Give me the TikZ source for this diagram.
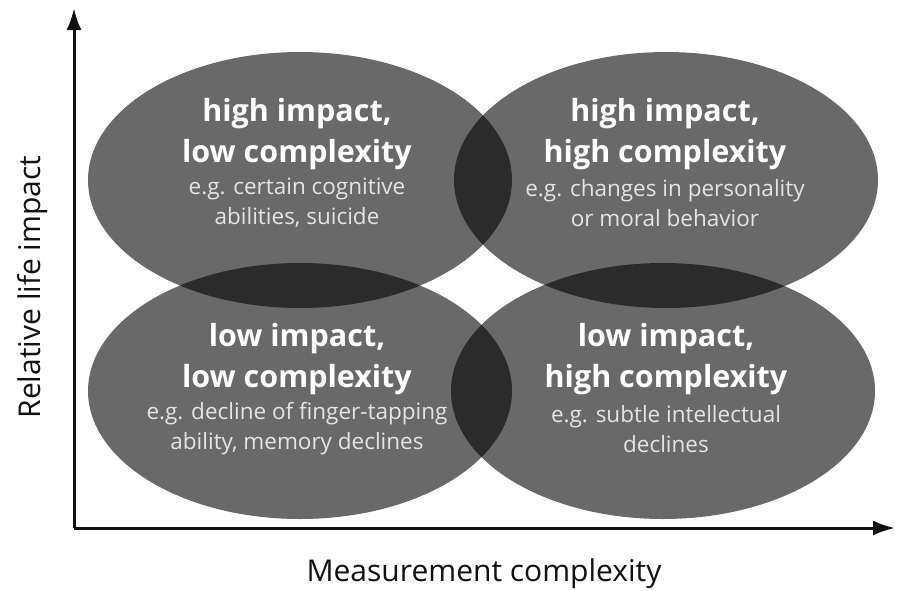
\documentclass[tikz,border=0pt]{standalone}
\usepackage{fontspec}
\setmainfont{Open Sans}
\usetikzlibrary{arrows.meta, shapes.geometric}
\definecolor{blob-fill}{HTML}{000000}
\definecolor{title-text}{HTML}{FFFFFF}
\definecolor{note-text}{HTML}{E4E4E4}
\definecolor{axis}{HTML}{111111}
\tikzset{
  quad-blob/.style={
    ellipse, fill=blob-fill, fill opacity=0.59,
    minimum width=424pt, minimum height=256pt, inner sep=0pt
  },
  quad-title/.style={
    align=center, text=title-text, inner sep=0pt,
    font=\fontsize{30.5}{41}\selectfont\bfseries
  },
  quad-note/.style={
    align=center, text=note-text, inner sep=0pt,
    font=\fontsize{22.5}{30}\selectfont
  },
  axis-label/.style={text=axis, inner sep=0pt, font=\fontsize{30}{34}\selectfont},
  axis-edge/.style={-{Latex[length=22pt, width=15pt]}, line width=3pt, draw=axis}
}

\begin{document}
\begin{tikzpicture}[x=1pt, y=-1pt]
  \useasboundingbox (0,0) rectangle (897,590);

  % the four quadrant ellipses, overlaps darken through the opacity
  \node[quad-blob] (hl) at (300,180) {};
  \node[quad-blob] (hh) at (666,180) {};
  \node[quad-blob] (ll) at (300,391) {};
  \node[quad-blob] (lh) at (663,391) {};

  \node[quad-title] (hl-title) at (297,134) {high impact,\\low complexity};
  \node[quad-note]  (hl-note)  at (297,203) {e.g. certain cognitive\\abilities, suicide};

  \node[quad-title] (hh-title) at (665,134) {high impact,\\high complexity};
  \node[quad-note]  (hh-note)  at (665,203) {e.g. changes in personality\\or moral behavior};

  \node[quad-title] (ll-title) at (297,359) {low impact,\\low complexity};
  \node[quad-note]  (ll-note)  at (297,429) {e.g. decline of finger-tapping\\ability, memory declines};

  \node[quad-title] (lh-title) at (666,359) {low impact,\\high complexity};
  \node[quad-note]  (lh-note)  at (666,429) {e.g. subtle intellectual\\declines};

  % axes
  \coordinate (origin) at (74,528);
  \coordinate (y-end)  at (74,8);
  \coordinate (x-end)  at (895,528);
  \draw[axis-edge] (origin) -- (y-end);
  \draw[axis-edge] (origin) -- (x-end);

  \node[axis-label] (x-label) at (484,574) {Measurement complexity};
  \node[axis-label, rotate=90] (y-label) at (33,287) {Relative life impact};
\end{tikzpicture}
\end{document}
